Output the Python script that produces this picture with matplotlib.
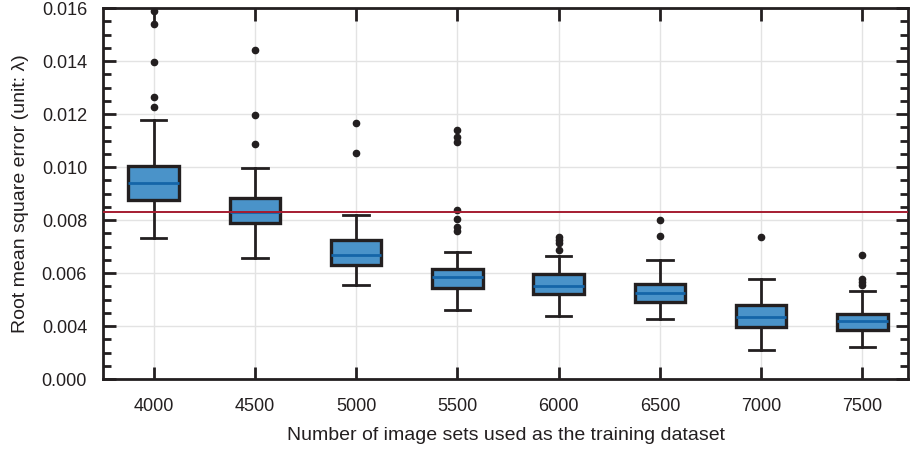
import matplotlib
matplotlib.use("Agg")
import matplotlib.pyplot as plt
from matplotlib.ticker import MultipleLocator

plt.rcParams['font.family'] = ['Liberation Sans', 'DejaVu Sans']

# training set sizes
sizes = ["4000", "4500", "5000", "5500", "6000", "6500", "7000", "7500"]

# box statistics
q1 = [0.00876, 0.00789, 0.00630, 0.00545, 0.00521, 0.00491, 0.00395, 0.00385]
med = [0.00940, 0.00830, 0.00670, 0.00585, 0.00552, 0.00526, 0.00435, 0.00418]
q3 = [0.01003, 0.00883, 0.00725, 0.00616, 0.00595, 0.00560, 0.00480, 0.00446]
whislo = [0.00732, 0.00657, 0.00555, 0.00462, 0.00440, 0.00426, 0.00308, 0.00320]
whishi = [0.01177, 0.00996, 0.00820, 0.00679, 0.00665, 0.00648, 0.00576, 0.00531]
fliers = [
    [0.0159, 0.0154, 0.01396, 0.01264, 0.01226],
    [0.01441, 0.01196, 0.01087],
    [0.01167, 0.01055],
    [0.0114, 0.01114, 0.01093, 0.00838, 0.00806, 0.00775, 0.00758],
    [0.00735, 0.00725, 0.00712, 0.00687],
    [0.00799, 0.0074],
    [0.00737],
    [0.00668, 0.00576, 0.00567, 0.00557],
]

threshold = 0.0083

ytick_vals = [0.002, 0.004, 0.006, 0.008, 0.010, 0.012, 0.014, 0.016]
ytick_labels = ["0.000", "0.004", "0.006", "0.008", "0.010", "0.012", "0.014", "0.016"]

fig = plt.figure(figsize=(9.1, 4.54), dpi=100)
ax = fig.add_axes([0.1132, 0.165, 0.8846, 0.817])

stats = []
for i in range(len(sizes)):
    stats.append(dict(label=sizes[i], q1=q1[i], med=med[i], q3=q3[i],
                      whislo=whislo[i], whishi=whishi[i], fliers=fliers[i]))

edge = "#231F20"
pos = list(range(1, len(sizes) + 1))
ax.bxp(stats, positions=pos, widths=0.5, capwidths=0.25, patch_artist=True,
       boxprops=dict(facecolor="#4A93C9", edgecolor=edge, linewidth=2.4),
       medianprops=dict(color="#1565A8", linewidth=2),
       whiskerprops=dict(color=edge, linewidth=2),
       capprops=dict(color=edge, linewidth=2),
       flierprops=dict(marker="o", markerfacecolor=edge, markeredgecolor=edge,
                       markersize=4.5),
       zorder=3)

ax.axhline(threshold, color="#A51C30", linewidth=1.4, zorder=4)

ax.set_xlim(0.5, 8.45)
ax.set_ylim(0.002, 0.016)
ax.set_yticks(ytick_vals)
ax.set_yticklabels(ytick_labels)
ax.yaxis.set_minor_locator(MultipleLocator(0.0005))

ax.grid(True, color="#E3E3E3", linewidth=1, zorder=0)
ax.set_axisbelow(True)

for s in ax.spines.values():
    s.set_linewidth(2)
    s.set_color(edge)

ax.tick_params(which="both", direction="in", top=True, right=True, color=edge,
               labelsize=13, labelcolor="#231F20")
ax.tick_params(which="major", length=9, width=2)
ax.tick_params(which="minor", length=6, width=2)
ax.tick_params(axis="x", which="minor", bottom=False, top=False)
ax.tick_params(axis="x", pad=13.5)
ax.tick_params(axis="y", pad=11.5)

ax.set_xlabel("Number of image sets used as the training dataset", fontsize=14,
              color="#231F20", labelpad=9)
ax.set_ylabel("Root mean square error (unit: λ)", fontsize=14, color="#231F20",
              labelpad=9)

fig.savefig("out.png", dpi=100)
